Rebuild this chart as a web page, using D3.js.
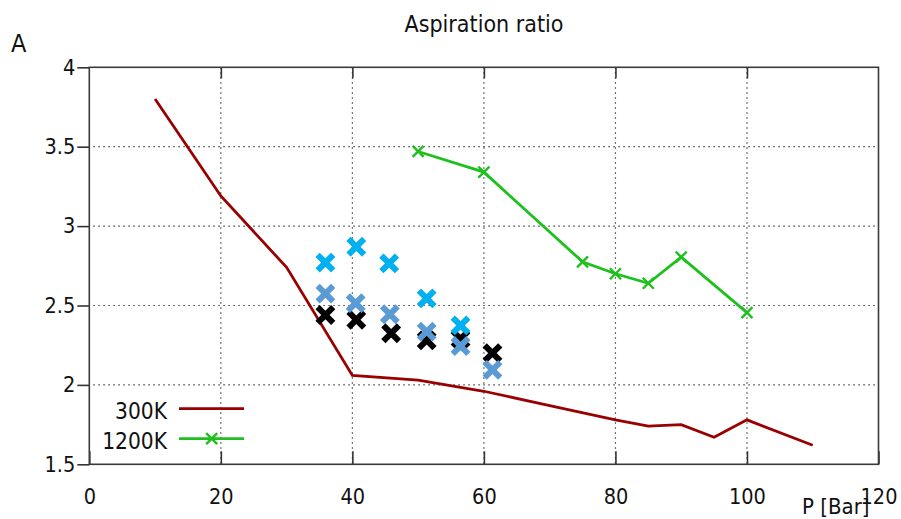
<!DOCTYPE html>
<html>
<head>
<meta charset="utf-8">
<script src="https://cdn.jsdelivr.net/npm/d3@7"></script>
<style>
  body { margin: 0; background: #fff; }
  text { font-family: "DejaVu Sans Condensed", "DejaVu Sans", sans-serif; fill: #111; }
</style>
</head>
<body>
<div id="vis"></div>
<script>
// Data
const xTicks = [0, 20, 40, 60, 80, 100, 120]
const yTicks = [1.5, 2, 2.5, 3, 3.5, 4]

const p300 = [10, 20, 30, 40, 50, 60, 70, 80, 85, 90, 95, 100, 110]
const a300 = [3.80, 3.19, 2.74, 2.06, 2.03, 1.96, 1.87, 1.78, 1.74, 1.75, 1.67, 1.78, 1.62]

const p1200 = [50, 60, 75, 80, 85, 90, 100]
const a1200 = [3.47, 3.34, 2.775, 2.70, 2.64, 2.805, 2.455]

const pBlack = [35.9, 40.6, 45.9, 51.3, 56.45, 61.3]
const aBlack = [2.44, 2.41, 2.325, 2.28, 2.29, 2.20]

const pSteel = [35.9, 40.5, 45.7, 51.3, 56.45, 61.3]
const aSteel = [2.575, 2.515, 2.445, 2.335, 2.245, 2.095]

const pLight = [35.9, 40.6, 45.6, 51.3, 56.45]
const aLight = [2.77, 2.87, 2.765, 2.545, 2.375]

const margin = {left: 89.3, top: 67.3, right: 22.5, bottom: 54.7}
const W = 901, H = 519
const width = W - margin.left - margin.right
const height = H - margin.top - margin.bottom

const x = d3.scaleLinear([0, 120], [margin.left, margin.left + width])
const y = d3.scaleLinear([1.5, 4], [margin.top + height, margin.top])

const svg = d3.select('#vis').append('svg')
    .attr('width', W)
    .attr('height', H)

// Grid
svg.append('g').attr('class', 'grid')
    .selectAll('line.vx')
    .data(xTicks.filter(d => d > 0 && d < 120))
    .enter().append('line')
        .attr('x1', d => x(d)).attr('x2', d => x(d))
        .attr('y1', margin.top).attr('y2', margin.top + height)
        .attr('stroke', '#444').attr('stroke-width', 1.2)
        .attr('stroke-dasharray', '1.5,3.5')

svg.select('.grid')
    .selectAll('line.hy')
    .data(yTicks.filter(d => d > 1.5 && d < 4))
    .enter().append('line')
        .attr('x1', margin.left + 4).attr('x2', margin.left + width)
        .attr('y1', d => y(d)).attr('y2', d => y(d))
        .attr('stroke', '#444').attr('stroke-width', 1.2)
        .attr('stroke-dasharray', '1.5,3.5')

// Axes
svg.append('g')
    .attr('transform', `translate(${margin.left},0)`)
    .call(d3.axisLeft(y).tickValues(yTicks).tickSize(12).tickPadding(2).tickFormat(d => String(d)))

svg.append('g')
    .attr('transform', `translate(0,${margin.top + height})`)
    .call(d3.axisBottom(x).tickValues(xTicks).tickSize(-13).tickPadding(24).tickFormat(d => String(d)))

svg.append('g')
    .attr('transform', `translate(0,${margin.top})`)
    .call(d3.axisTop(x).tickValues(xTicks.filter(d => d > 0 && d < 120)).tickSize(-11).tickFormat(''))

svg.selectAll('.domain').remove()
svg.selectAll('.tick line').attr('stroke', '#333').attr('stroke-width', 1.6)
svg.selectAll('.tick text')
    .style('font-size', '21.5px')
    .attr('fill', '#111')

// Frame
svg.append('rect')
    .attr('x', margin.left).attr('y', margin.top)
    .attr('width', width).attr('height', height)
    .attr('fill', 'none')
    .attr('stroke', '#3a3a3a')
    .attr('stroke-width', 1.6)

// 300K line
const line = d3.line().x(d => x(d[0])).y(d => y(d[1]))

svg.append('path')
    .datum(d3.zip(p300, a300))
    .attr('d', line)
    .attr('fill', 'none')
    .attr('stroke', '#990000')
    .attr('stroke-width', 2.8)

// 1200K line
const green = '#1ec01e'
svg.append('path')
    .datum(d3.zip(p1200, a1200))
    .attr('d', line)
    .attr('fill', 'none')
    .attr('stroke', green)
    .attr('stroke-width', 2.8)

function smallCross(g, cx, cy, s, color, w){
    g.append('path')
        .attr('d', `M${cx - s},${cy - s}L${cx + s},${cy + s}M${cx - s},${cy + s}L${cx + s},${cy - s}`)
        .attr('stroke', color)
        .attr('stroke-width', w)
        .attr('fill', 'none')
}

const gMark = svg.append('g')
d3.zip(p1200, a1200).forEach(d => smallCross(gMark, x(d[0]), y(d[1]), 5.5, green, 2.4))

// Scatter crosses
const scatterSets = [
    {p: pBlack, a: aBlack, color: '#000000'},
    {p: pSteel, a: aSteel, color: '#5b9bd5'},
    {p: pLight, a: aLight, color: '#00b0f0'}
]
const gScatter = svg.append('g')
scatterSets.forEach(s => {
    d3.zip(s.p, s.a).forEach(d => smallCross(gScatter, x(d[0]), y(d[1]), 7.8, s.color, 6))
})

// Titles
svg.append('text')
    .attr('x', 484).attr('y', 32)
    .attr('text-anchor', 'middle')
    .style('font-size', '23px')
    .text('Aspiration ratio')

svg.append('text')
    .attr('x', 11).attr('y', 52)
    .style('font-size', '25px')
    .text('A')

svg.append('text')
    .attr('x', 802).attr('y', 514)
    .style('font-size', '22px')
    .text('P [Bar]')

// Legend
const legend = svg.append('g').attr('class', 'categoryLegend')
legend.append('text')
    .attr('x', 167).attr('y', 419)
    .attr('text-anchor', 'end')
    .style('font-size', '22.5px')
    .text('300K')
legend.append('line')
    .attr('x1', 179).attr('x2', 244).attr('y1', 408.7).attr('y2', 408.7)
    .attr('stroke', '#990000').attr('stroke-width', 2.8)

legend.append('text')
    .attr('x', 167).attr('y', 449)
    .attr('text-anchor', 'end')
    .style('font-size', '22.5px')
    .text('1200K')
legend.append('line')
    .attr('x1', 179).attr('x2', 244).attr('y1', 438.7).attr('y2', 438.7)
    .attr('stroke', green).attr('stroke-width', 2.8)
smallCross(legend, 211.7, 438.7, 5.5, green, 2.4)
</script>
</body>
</html>
